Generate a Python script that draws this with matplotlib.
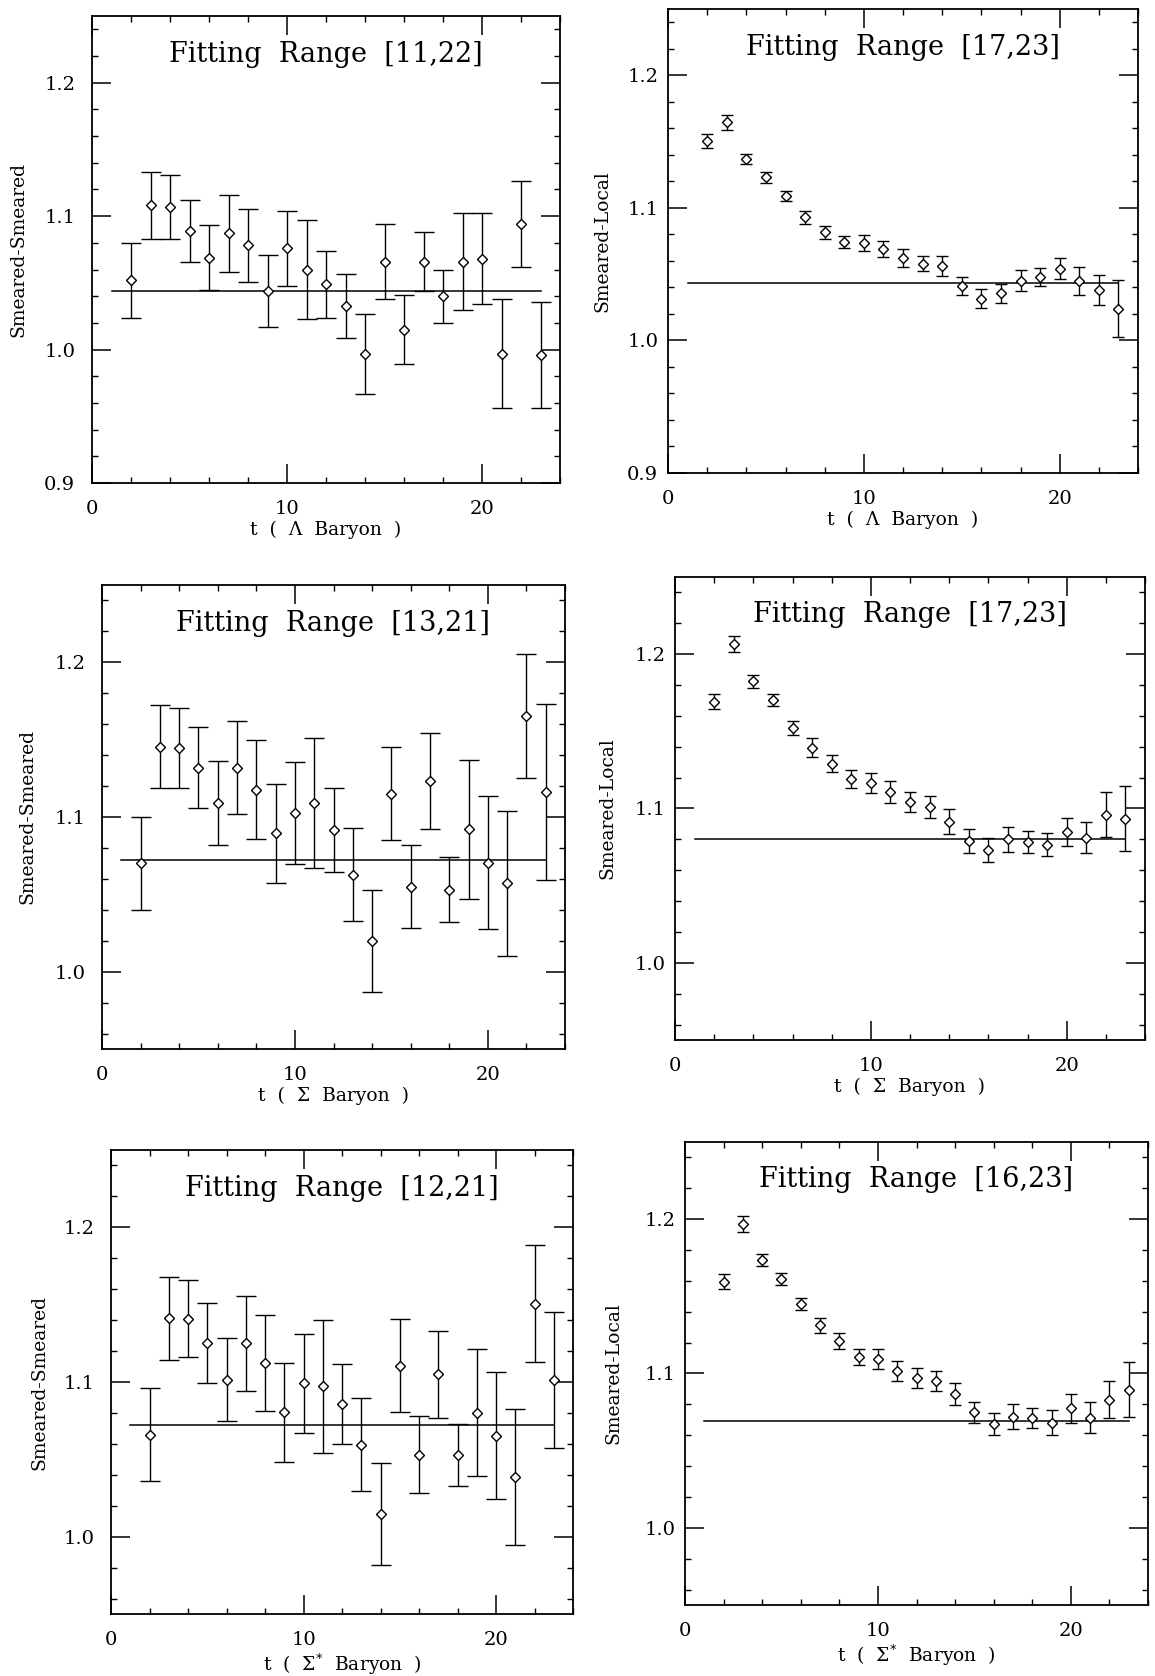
import matplotlib
matplotlib.use("Agg")
import matplotlib.pyplot as plt
from matplotlib.ticker import MultipleLocator, FormatStrFormatter

plt.rcParams['font.family'] = ['DejaVu Serif']

# valores (t = 2 ... 23)
t = list(range(2, 24))

lam_ss = [1.052, 1.108, 1.107, 1.089, 1.069, 1.087, 1.078, 1.044, 1.076, 1.060, 1.049,
          1.033, 0.997, 1.066, 1.015, 1.066, 1.040, 1.066, 1.068, 0.997, 1.094, 0.996]
lam_ss_err = [0.028, 0.025, 0.024, 0.023, 0.024, 0.029, 0.027, 0.027, 0.028, 0.037, 0.025,
              0.024, 0.030, 0.028, 0.026, 0.022, 0.020, 0.036, 0.034, 0.041, 0.032, 0.040]
lam_sl = [1.1505, 1.1645, 1.137, 1.123, 1.109, 1.093, 1.0816, 1.074, 1.0738, 1.069, 1.062,
          1.058, 1.056, 1.041, 1.0316, 1.0355, 1.045, 1.0477, 1.054, 1.045, 1.038, 1.024]
lam_sl_err = [0.005, 0.0055, 0.004, 0.004, 0.004, 0.005, 0.005, 0.0045, 0.006, 0.006, 0.0066,
              0.006, 0.0075, 0.0065, 0.007, 0.007, 0.008, 0.007, 0.008, 0.0105, 0.011, 0.0215]

sig_ss = [1.070, 1.1455, 1.1447, 1.132, 1.109, 1.132, 1.1175, 1.0895, 1.1025, 1.109, 1.0917,
          1.0628, 1.0197, 1.115, 1.055, 1.1234, 1.053, 1.092, 1.0703, 1.0571, 1.1653, 1.1163]
sig_ss_err = [0.030, 0.027, 0.026, 0.026, 0.027, 0.030, 0.032, 0.032, 0.033, 0.042, 0.027,
              0.030, 0.033, 0.030, 0.027, 0.031, 0.021, 0.045, 0.043, 0.047, 0.040, 0.057]
sig_sl = [1.1693, 1.2065, 1.1823, 1.1703, 1.1523, 1.1395, 1.129, 1.1192, 1.1168, 1.1105, 1.1043,
          1.1008, 1.0915, 1.0788, 1.0732, 1.0801, 1.0782, 1.0766, 1.0846, 1.0812, 1.096, 1.0933]
sig_sl_err = [0.005, 0.0053, 0.004, 0.0042, 0.0046, 0.0062, 0.0054, 0.0059, 0.0065, 0.007, 0.0067,
              0.007, 0.008, 0.0078, 0.0076, 0.008, 0.007, 0.0076, 0.009, 0.0102, 0.0147, 0.021]

sst_ss = [1.0658, 1.1411, 1.1409, 1.1253, 1.1015, 1.1249, 1.112, 1.0804, 1.0991, 1.0971, 1.0857,
          1.0595, 1.0144, 1.1105, 1.0531, 1.1049, 1.0528, 1.0801, 1.0654, 1.0385, 1.1507, 1.1015]
sst_ss_err = [0.030, 0.027, 0.025, 0.026, 0.027, 0.031, 0.031, 0.032, 0.032, 0.043, 0.026,
              0.030, 0.033, 0.030, 0.025, 0.028, 0.020, 0.041, 0.041, 0.044, 0.038, 0.044]
sst_sl = [1.1596, 1.1968, 1.1734, 1.1612, 1.145, 1.1312, 1.1209, 1.1107, 1.1091, 1.1019, 1.0973,
          1.0951, 1.0868, 1.0748, 1.0671, 1.072, 1.0712, 1.0682, 1.0774, 1.0714, 1.0831, 1.0895]
sst_sl_err = [0.005, 0.005, 0.004, 0.004, 0.004, 0.005, 0.0053, 0.005, 0.0065, 0.0065, 0.0065,
              0.0063, 0.007, 0.007, 0.007, 0.008, 0.0067, 0.0083, 0.0093, 0.0102, 0.0122, 0.018]

# ajuste constante de cada panel: valor y extremos en t
fit_values = [1.044, 1.043, 1.072, 1.080, 1.072, 1.069]
fit_t = [1, 23]

titles = ["Fitting  Range  [11,22]", "Fitting  Range  [17,23]",
          "Fitting  Range  [13,21]", "Fitting  Range  [17,23]",
          "Fitting  Range  [12,21]", "Fitting  Range  [16,23]"]
ylabels = ["Smeared-Smeared", "Smeared-Local"] * 3
xlabels = (["t  (  \u039b  Baryon  )"] * 2 + ["t  (  \u03a3  Baryon  )"] * 2
           + ["t  (  \u03a3$^{*}$  Baryon  )"] * 2)

series = [lam_ss, lam_sl, sig_ss, sig_sl, sst_ss, sst_sl]
errors = [lam_ss_err, lam_sl_err, sig_ss_err, sig_sl_err, sst_ss_err, sst_sl_err]

# cajas de los ejes en pixeles (x0, x1, y0, y1) y limites en y
W, H = 1155, 1676
boxes = [(92, 560, 16, 483), (668, 1138, 9, 473),
         (102, 565, 585, 1049), (675, 1145, 577, 1040),
         (111, 573, 1150, 1614), (685, 1148, 1142, 1605)]
ylims = [(0.9, 1.25), (0.9, 1.25), (0.95, 1.25), (0.95, 1.25), (0.95, 1.25), (0.95, 1.25)]
ylabel_off = [65, 57, 66, 59, 63, 63]

fig = plt.figure(figsize=(W / 100, H / 100), dpi=100)

for i in range(6):
    x0, x1, y0, y1 = boxes[i]
    ax = fig.add_axes([x0 / W, 1 - y1 / H, (x1 - x0) / W, (y1 - y0) / H])
    left_col = (i % 2 == 0)
    cap = 7 if left_col else 4

    ax.errorbar(t, series[i], yerr=errors[i], fmt='D', ms=5, mfc='white', mec='black',
                mew=1.0, ecolor='black', elinewidth=1.0, capsize=cap, capthick=1.0, zorder=3)
    ax.plot(fit_t, [fit_values[i], fit_values[i]], color='black', lw=1.1, zorder=2)

    ax.set_xlim(0, 24)
    ax.set_ylim(*ylims[i])
    ax.xaxis.set_major_locator(MultipleLocator(10))
    ax.xaxis.set_minor_locator(MultipleLocator(2))
    ax.yaxis.set_major_locator(MultipleLocator(0.1))
    ax.yaxis.set_minor_locator(MultipleLocator(0.02))
    ax.yaxis.set_major_formatter(FormatStrFormatter('%.1f'))

    ypad = 12 if left_col else 7
    ax.tick_params(which='both', direction='in', top=True, right=True, colors='black')
    ax.tick_params(which='major', length=14, width=1.1, labelsize=14)
    ax.tick_params(which='minor', length=4.5, width=1.0)
    ax.tick_params(axis='x', which='major', pad=12)
    ax.tick_params(axis='y', which='major', pad=ypad)
    for s in ax.spines.values():
        s.set_linewidth(1.3)

    ax.text(0.5, 0.918, titles[i], transform=ax.transAxes, ha='center', va='center',
            fontsize=19.5)
    ax.set_xlabel(xlabels[i], fontsize=13.5, labelpad=2)
    ax.set_ylabel(ylabels[i], fontsize=13.5)
    ax.yaxis.set_label_coords(-ylabel_off[i] / (x1 - x0), 0.5)

fig.savefig("out.png", dpi=100, facecolor='white')
